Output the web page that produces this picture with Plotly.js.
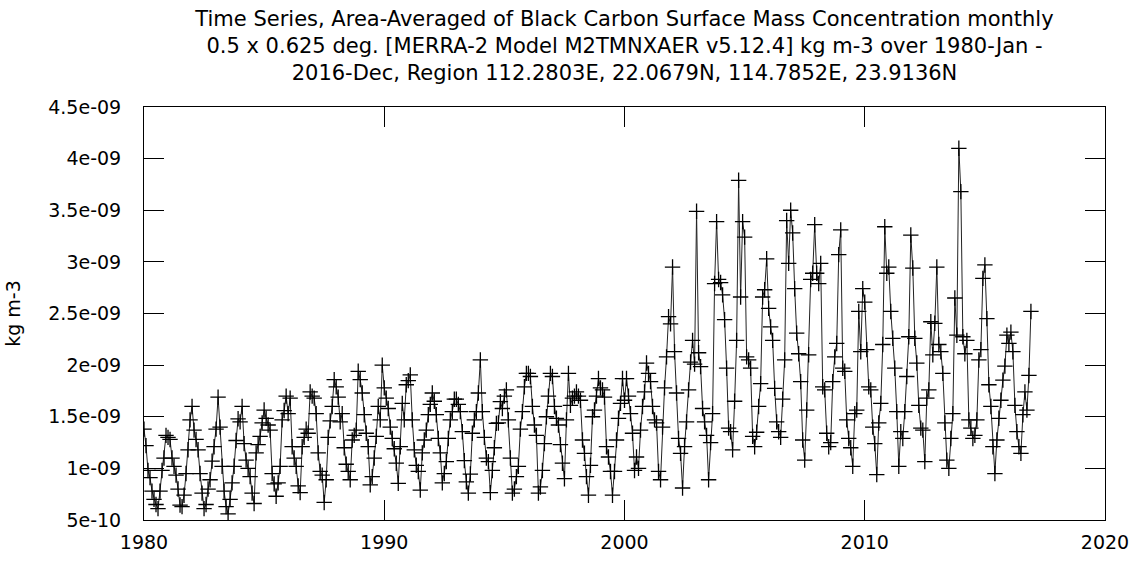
<!DOCTYPE html>
<html><head><meta charset="utf-8">
<script src="https://cdn.plot.ly/plotly-3.0.1.min.js"></script>
<style>html,body{margin:0;padding:0;background:#fff}#chart{width:1139px;height:563px}</style>
</head><body><div id="chart"></div>
<script>
// Monthly values, units of 1e-9 kg m-3, Jan 1980 .. Dec 2016
const startYear = 1980;
const vals1980s = [
  1.38, 1.22, 0.98, 0.91, 0.78, 0.70, 0.65, 0.61, 0.78, 0.98, 1.10, 1.32,
  1.30, 1.28, 1.10, 1.02, 0.935, 0.80, 0.645, 0.63, 0.74, 0.95, 1.18, 1.47,
  1.60, 1.37, 1.28, 1.18, 0.95, 0.76, 0.61, 0.65, 0.80, 0.89, 1.07, 1.21,
  1.38, 1.69, 1.40, 1.02, 0.78, 0.63, 0.56, 0.70, 0.86, 1.02, 1.27, 1.48,
  1.45, 1.60, 1.24, 1.08, 1.00, 0.92, 0.76, 0.66, 1.15, 1.23, 1.31, 1.44,
  1.565, 1.485, 1.42, 1.37, 0.95, 0.85, 0.73, 0.86, 1.02, 1.47, 1.56, 1.70,
  1.53, 1.68, 1.21, 1.10, 1.02, 0.83, 0.765, 1.21, 1.30, 1.38, 1.34, 1.74,
  1.70, 1.68, 1.53, 1.15, 0.97, 0.935, 0.67, 0.89, 1.30, 1.46, 1.60, 1.86,
  1.79, 1.69, 1.45, 1.53, 1.20, 1.04, 0.97, 0.89, 1.275, 1.32, 1.37, 1.94,
  1.86, 1.73, 1.52, 1.34, 1.21, 0.84, 0.92, 1.10, 1.31, 1.60, 1.47, 2.00
];
const vals1990s = [
  1.78, 1.68, 1.58, 1.40, 1.29, 1.19, 1.05, 0.855, 1.21, 1.63, 1.47, 1.81,
  1.85, 1.905, 1.47, 1.18, 1.03, 0.97, 0.79, 1.15, 1.275, 1.37, 1.52, 1.62,
  1.73, 1.65, 1.52, 1.29, 1.15, 0.86, 0.95, 1.065, 1.29, 1.47, 1.55, 1.67,
  1.67, 1.62, 1.55, 1.355, 1.075, 0.87, 0.76, 0.945, 1.34, 1.47, 1.55, 1.73,
  2.05, 1.55, 1.30, 1.10, 1.065, 0.765, 0.98, 1.20, 1.436, 1.44, 1.646, 1.58,
  1.70, 1.76, 1.47, 1.10, 0.76, 0.80, 0.92, 1.02, 1.38, 1.55, 1.79, 1.92,
  1.92, 1.89, 1.60, 1.42, 1.32, 0.76, 0.82, 0.98, 1.24, 1.50, 1.70, 1.92,
  1.89, 1.60, 1.485, 1.42, 1.23, 1.05, 0.90, 1.47, 1.92, 1.61, 1.68, 1.70,
  1.74, 1.70, 1.66, 1.275, 1.146, 0.92, 0.74, 1.03, 1.50, 1.565, 1.70, 1.87,
  1.78, 1.76, 1.69, 1.21, 1.11, 0.97, 0.74, 0.97, 1.275, 1.485, 1.63, 1.87
];
const vals2000s = [
  1.66, 1.87, 1.70, 1.53, 1.34, 0.98, 1.11, 1.00, 1.37, 1.60, 1.74, 2.02,
  1.92, 1.84, 1.60, 1.47, 1.44, 0.97, 0.89, 1.40, 1.78, 2.08, 2.47, 2.40,
  2.95, 2.13, 1.73, 1.29, 1.145, 0.81, 1.21, 1.45, 1.76, 2.03, 2.24, 2.01,
  3.49, 2.12, 1.985, 1.58, 1.45, 1.32, 0.89, 1.25, 1.53, 2.79, 3.39, 2.83,
  2.80, 2.68, 2.44, 1.97, 1.39, 1.355, 1.18, 1.65, 2.24, 3.79, 2.66, 3.39,
  3.24, 2.08, 2.05, 1.97, 1.31, 1.21, 1.35, 1.60, 1.82, 2.66, 2.73, 3.03,
  2.55, 2.37, 2.24, 1.775, 1.45, 1.355, 1.30, 1.67, 2.05, 3.40, 2.985, 3.50,
  3.28, 2.74, 2.31, 2.11, 1.84, 1.275, 1.08, 1.565, 2.10, 2.83, 2.89, 3.36,
  2.89, 2.79, 2.985, 1.79, 1.76, 1.34, 1.21, 1.25, 1.84, 2.08, 2.21, 3.07,
  3.31, 1.97, 1.94, 1.47, 1.29, 1.20, 1.02, 1.53, 1.565, 2.52, 2.13, 2.74
];
const vals2010s = [
  2.61, 2.15, 1.79, 1.76, 1.40, 1.24, 0.94, 1.44, 1.63, 2.20, 3.34, 2.89,
  2.95, 2.52, 2.26, 1.97, 1.55, 1.02, 1.355, 1.29, 1.55, 1.89, 2.275, 3.26,
  2.94, 2.26, 2.02, 1.61, 1.39, 1.37, 1.065, 1.68, 1.76, 2.42, 2.10, 2.405,
  2.95, 2.20, 2.13, 1.92, 1.44, 1.08, 1.00, 1.29, 1.53, 2.65, 2.29, 4.10,
  3.68, 2.275, 2.11, 2.24, 1.47, 1.39, 1.29, 1.32, 1.47, 2.05, 2.15, 2.84,
  2.97, 2.45, 1.81, 1.60, 1.21, 0.95, 1.275, 1.485, 1.66, 1.855, 1.99, 2.29,
  2.21, 2.32, 2.13, 1.61, 1.355, 1.21, 1.145, 1.52, 1.74, 1.565, 1.90, 2.52
];
const xTickVals = [1980, 1990, 2000, 2010, 2020];
const yTickVals = [0.5, 1, 1.5, 2, 2.5, 3, 3.5, 4, 4.5];
const yTickText = ["5e-10", "1e-09", "1.5e-09", "2e-09", "2.5e-09", "3e-09", "3.5e-09", "4e-09", "4.5e-09"];
const titleLines = [
  "Time Series, Area-Averaged of Black Carbon Surface Mass Concentration monthly",
  "0.5 x 0.625 deg. [MERRA-2 Model M2TMNXAER v5.12.4] kg m-3 over 1980-Jan -",
  "2016-Dec, Region 112.2803E, 22.0679N, 114.7852E, 23.9136N"
];
const yLabel = "kg m-3";

const allVals = vals1980s.concat(vals1990s, vals2000s, vals2010s);
const xs = allVals.map((_, i) => startYear + i / 12);
const ys = allVals.map(v => v * 1e-9);

const trace = {
  type: 'scatter', mode: 'lines+markers', x: xs, y: ys,
  line: {color: '#222', width: 1},
  marker: {symbol: 'cross-thin', size: 11, color: '#000', line: {color: '#000', width: 1.3}},
  hoverinfo: 'x+y'
};
const axisCommon = {
  showline: true, linecolor: '#000', linewidth: 1, mirror: 'ticks',
  ticks: 'inside', ticklen: 20, tickwidth: 1, tickcolor: '#000',
  showgrid: false, zeroline: false,
  tickfont: {family: 'DejaVu Sans', size: 19, color: '#000'}
};
const layout = {
  width: 1139, height: 563,
  margin: {l: 144, r: 34, t: 107, b: 43},
  paper_bgcolor: '#fff', plot_bgcolor: '#fff',
  font: {family: 'DejaVu Sans', size: 19, color: '#000'},
  showlegend: false,
  title: {
    text: titleLines.join('<br>'),
    font: {family: 'DejaVu Sans', size: 21, color: '#000'},
    x: 0.5, xref: 'paper', xanchor: 'center',
    y: 0.954, yref: 'container', yanchor: 'middle'
  },
  xaxis: Object.assign({}, axisCommon, {
    range: [1980, 2020], tickvals: xTickVals, ticktext: xTickVals.map(String),
    ticklabelstandoff: 5
  }),
  yaxis: Object.assign({}, axisCommon, {
    range: [0.5e-9, 4.5e-9], tickvals: yTickVals.map(v => v * 1e-9), ticktext: yTickText,
    ticklabelstandoff: 18,
    title: {text: yLabel, font: {family: 'DejaVu Sans', size: 19, color: '#000'}, standoff: 22}
  })
};
Plotly.newPlot('chart', [trace], layout, {displayModeBar: false, staticPlot: true});
</script>
</body></html>
